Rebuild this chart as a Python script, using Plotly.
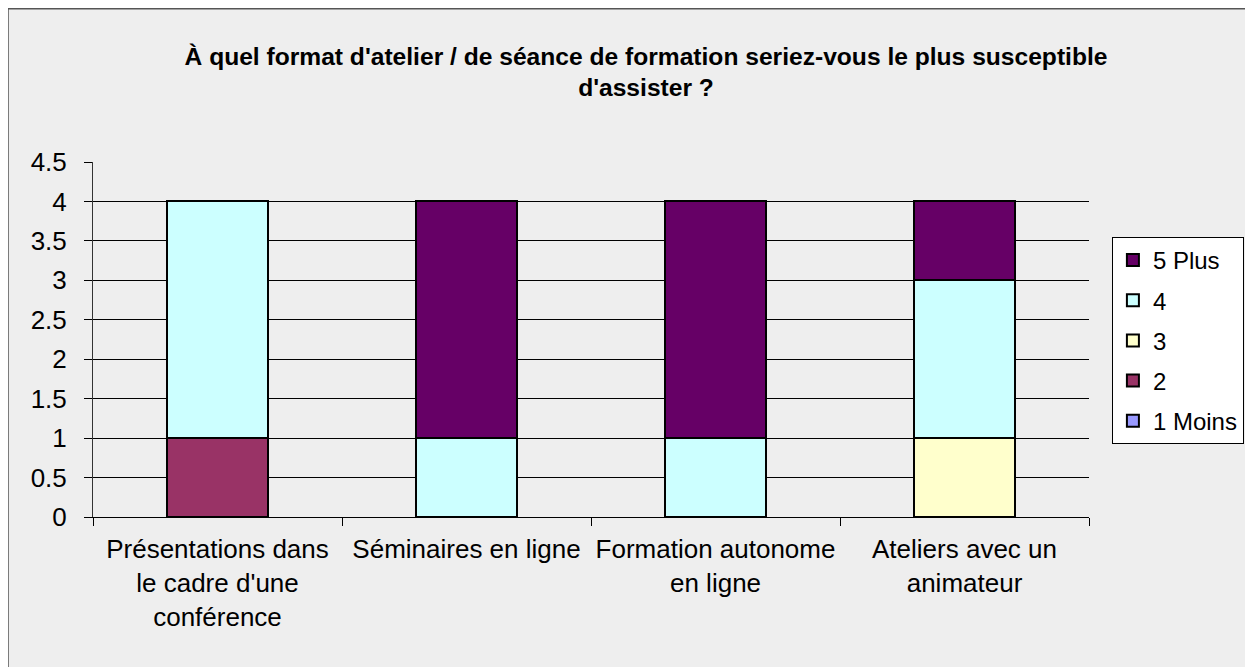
import plotly.graph_objects as go

categories = [
    "Présentations dans<br>le cadre d'une<br>conférence",
    "Séminaires en ligne",
    "Formation autonome<br>en ligne",
    "Ateliers avec un<br>animateur",
]
series_names = ["1 Moins", "2", "3", "4", "5 Plus"]
moins_1 = [0, 0, 0, 0]
note_2 = [1, 0, 0, 0]
note_3 = [0, 0, 0, 1]
note_4 = [3, 1, 1, 2]
plus_5 = [0, 3, 3, 1]
colors = ["#9999FF", "#993366", "#FFFFCC", "#CCFFFF", "#660066"]
y_ticks = [0, 0.5, 1, 1.5, 2, 2.5, 3, 3.5, 4, 4.5]

title_text = ("À quel format d'atelier / de séance de formation seriez-vous le plus susceptible"
              "<br>d'assister ?")

FONT = "Liberation Sans, Arial, sans-serif"
W, H = 1253, 667
L, R, T, B = 85, 172, 154, 158
PW, PH = W - L - R, H - T - B

fig = go.Figure()

all_series = [moins_1, note_2, note_3, note_4, plus_5]
for i, (name, vals) in enumerate(zip(series_names, all_series)):
    fig.add_trace(go.Bar(
        x=categories,
        y=vals,
        name=name,
        legendgroup=name,
        legendrank=len(all_series) - i,  # top of stack first in legend
        marker=dict(color=colors[i], line=dict(color="black", width=2)),
    ))

# border round the whole chart
fig.add_shape(
    type="rect", xref="paper", yref="paper",
    x0=(0 - L) / PW, x1=(W + 20 - L) / PW,
    y0=-(B + 20) / PH, y1=(H - 0.75 - B) / PH,
    fillcolor="rgba(0,0,0,0)", line=dict(color="#555555", width=1.5),
    layer="below",
)

fig.update_layout(
    width=W,
    height=H,
    barmode="stack",
    bargap=0.595,
    paper_bgcolor="#EEEEEE",
    plot_bgcolor="#EEEEEE",
    margin=dict(l=L, r=R, t=T, b=B),
    font=dict(family=FONT, size=26, color="black"),
    title=dict(
        text=title_text,
        font=dict(family=FONT, size=24.6, color="black", weight="bold"),
        xref="paper", x=(646 - 8 - L) / PW, xanchor="center",
        yref="container", y=1 - 56.5 / H, yanchor="middle",
    ),
    xaxis=dict(
        type="category",
        showline=True, linecolor="black", linewidth=1,
        ticks="outside", tickson="boundaries", ticklen=8, tickcolor="black",
        showgrid=False,
        ticklabelstandoff=9,
        tickfont=dict(size=26),
    ),
    yaxis=dict(
        range=[0, 4.5],
        tickvals=y_ticks,
        ticktext=[f"{v:g}" for v in y_ticks],
        showline=True, linecolor="#333333", linewidth=1,
        ticks="outside", ticklen=8, tickcolor="black",
        showgrid=True, gridcolor="black", gridwidth=1,
        zeroline=False,
        ticklabelstandoff=12,
        tickfont=dict(size=26),
    ),
    legend=dict(
        traceorder="grouped",
        x=1.023, xanchor="left",
        y=0.789, yanchor="top",
        bgcolor="white", bordercolor="black", borderwidth=1,
        font=dict(size=24),
        tracegroupgap=6,
        itemwidth=30,
    ),
)

fig.write_html("out.html")
